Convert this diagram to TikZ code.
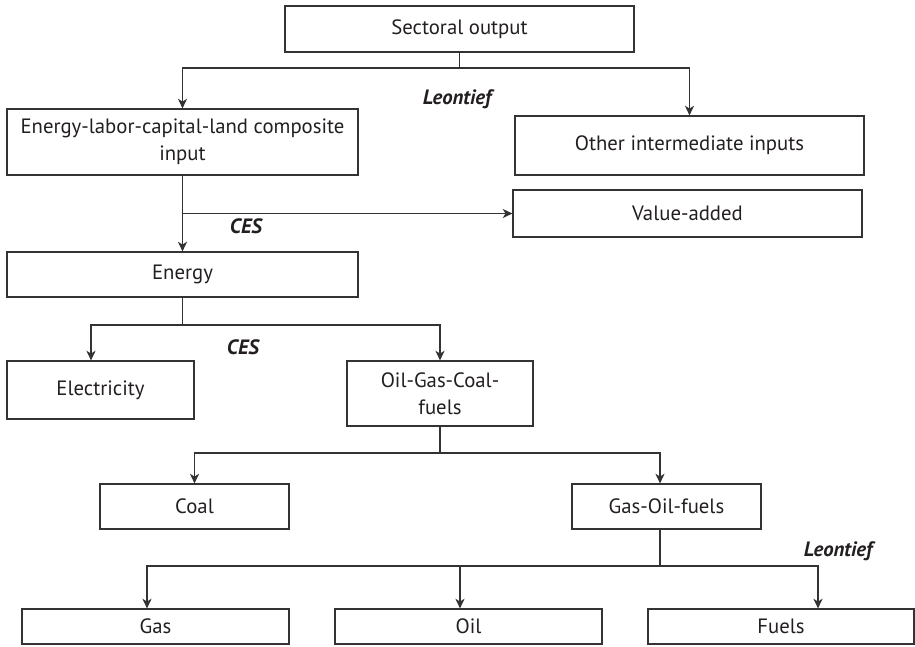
\documentclass[tikz,border=0pt]{standalone}
\usepackage{fontspec}
\setmainfont{PT Sans}
\usetikzlibrary{arrows.meta}
\definecolor{ink}{HTML}{231F20}
\definecolor{rule}{HTML}{333333}

\begin{document}
\begin{tikzpicture}[
    font=\fontsize{11.8}{15.3}\selectfont, text=ink,
    box/.style={draw=rule, line width=0.7pt, inner sep=1pt, align=center},
    arr/.style={draw=rule, line width=0.7pt, -{Stealth[length=5.5pt,width=5.2pt,inset=1.6pt]}},
    link/.style={draw=rule, line width=0.7pt},
    rel/.style={font=\fontsize{11.8}{15.3}\selectfont\bfseries\itshape}
]

\useasboundingbox (0,0) rectangle (18.3,-12.92);

% boxes
\node(out)[box, minimum width=6.98cm, minimum height=0.92cm] at (9.19,-0.58) {Sectoral output};
\node(comp)[box, minimum width=7.02cm, minimum height=1.32cm] at (3.65,-2.84) {Energy-labor-capital-land composite\\input};
\node(other)[box, minimum width=6.98cm, minimum height=1.18cm] at (13.79,-2.91) {Other intermediate inputs};
\node(va)[box, minimum width=6.98cm, minimum height=0.94cm] at (13.75,-4.27) {Value-added};
\node(energy)[box, minimum width=7.02cm, minimum height=0.90cm] at (3.65,-5.49) {Energy};
\node(elec)[box, minimum width=3.74cm, minimum height=1.16cm] at (2.01,-7.80) {Electricity};
\node(ogcf)[box, minimum width=3.72cm, minimum height=1.30cm] at (8.80,-7.87) {Oil-Gas-Coal-\\fuels};
\node(coal)[box, minimum width=3.78cm, minimum height=0.90cm] at (3.89,-10.13) {Coal};
\node(gof)[box, minimum width=3.78cm, minimum height=0.90cm] at (13.33,-10.13) {Gas-Oil-fuels};
\node(gas)[box, minimum width=5.34cm, minimum height=0.70cm] at (3.11,-12.53) {Gas};
\node(oil)[box, minimum width=5.34cm, minimum height=0.70cm] at (9.37,-12.53) {Oil};
\node(fuels)[box, minimum width=5.32cm, minimum height=0.70cm] at (15.62,-12.53) {Fuels};

% nesting labels
\node(leo1)[rel] at (9.14,-1.98) {Leontief};
\node(ces1)[rel] at (4.92,-4.52) {CES};
\node(ces2)[rel] at (4.86,-6.94) {CES};
\node(leo2)[rel] at (16.76,-11.02) {Leontief};

% branch points
\coordinate(j1) at (9.19,-1.36);
\coordinate(j2) at (3.65,-6.50);
\coordinate(j3) at (8.80,-9.06);
\coordinate(j4) at (13.20,-11.32);

\draw[link] (out) -- (j1);
\draw[arr] (j1) -| (comp.north);
\draw[arr] (j1) -| (other.north);

\draw[arr] (comp) -- (energy);
\draw[arr] (comp.south |- va.west) -- (va.west);

\draw[link] (energy) -- (j2);
\draw[arr] (j2) -| ([xshift=-0.19cm]elec.north);
\draw[arr] (j2) -| (ogcf.north);

\draw[link] (ogcf) -- (j3);
\draw[arr] (j3) -| (coal.north);
\draw[arr] (j3) -| ([xshift=-0.13cm]gof.north);

\draw[link] ([xshift=-0.13cm]gof.south) -- (j4);
\draw[arr] (j4) -| ([xshift=-0.17cm]gas.north);
\draw[arr] (j4) -| ([xshift=-0.17cm]oil.north);
\draw[arr] (j4) -| ([xshift=0.74cm]fuels.north);

\end{tikzpicture}
\end{document}
